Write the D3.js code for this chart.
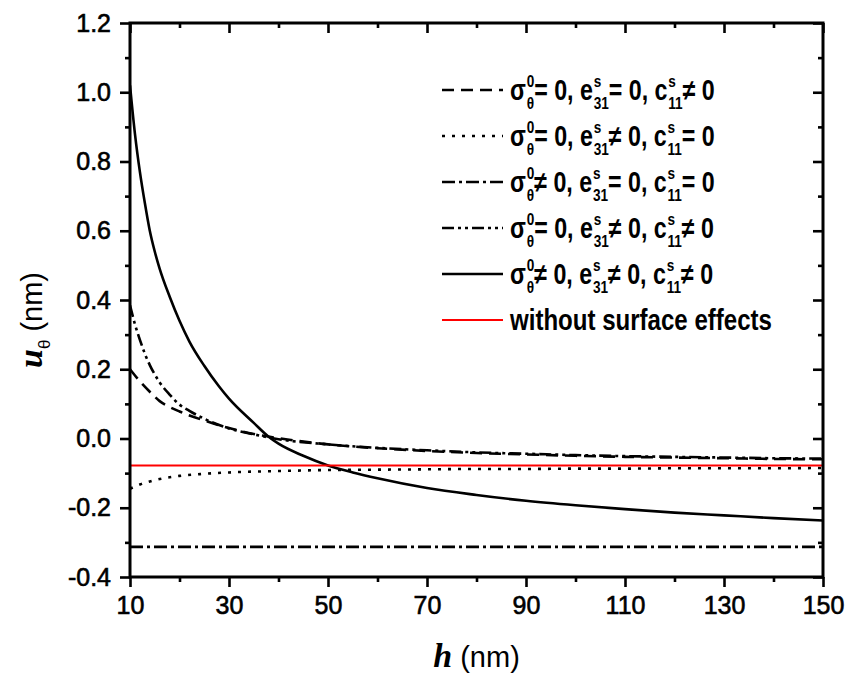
<!DOCTYPE html>
<html>
<head>
<meta charset="utf-8">
<script src="https://cdn.jsdelivr.net/npm/d3@7"></script>
<style>
  body { margin: 0; background: #fff; }
  svg { display: block; }
</style>
</head>
<body>
<svg id="chart" width="849" height="677"></svg>
<script>
// ---- data -----------------------------------------------------------
// h (nm) grid and u_theta (nm) for each combination of surface parameters
const hC11 = [10, 12, 14, 16, 18, 20, 25, 30, 35, 40, 50, 60, 70, 80, 90, 100, 110, 120, 130, 140, 150];
const uC11 = [0.200, 0.165, 0.135, 0.108, 0.091, 0.078, 0.052, 0.030, 0.013, 0.001, -0.017, -0.028, -0.036, -0.042, -0.046, -0.050, -0.053, -0.055, -0.057, -0.059, -0.060];

const hE31 = [10, 12, 14, 16, 18, 20, 25, 30, 40, 50, 60, 70, 80, 90, 100, 110, 120, 130, 140, 150];
const uE31 = [-0.145, -0.133, -0.124, -0.117, -0.112, -0.108, -0.102, -0.098, -0.094, -0.091, -0.090, -0.089, -0.088, -0.088, -0.087, -0.087, -0.086, -0.086, -0.086, -0.085];

const hSigma = [10, 150];
const uSigma = [-0.313, -0.313];

const hE31C11 = [10, 11, 12, 13, 14, 15, 16, 18, 20, 22, 25, 30, 35, 40, 50, 60, 70, 80, 90, 100, 110, 120, 130, 140, 150];
const uE31C11 = [0.385, 0.330, 0.285, 0.245, 0.212, 0.185, 0.162, 0.127, 0.098, 0.080, 0.057, 0.029, 0.012, -0.002, -0.017, -0.027, -0.034, -0.040, -0.044, -0.048, -0.051, -0.053, -0.055, -0.057, -0.058];

const hAll = [10, 11, 12, 13, 14, 15, 16, 18, 20, 22, 25, 28, 30, 35, 38, 40, 45, 50, 55, 60, 70, 80, 90, 100, 110, 120, 130, 140, 150];
const uAll = [1.020, 0.880, 0.770, 0.680, 0.600, 0.540, 0.490, 0.410, 0.340, 0.280, 0.210, 0.150, 0.115, 0.045, 0.005, -0.015, -0.050, -0.078, -0.098, -0.115, -0.143, -0.163, -0.180, -0.193, -0.204, -0.214, -0.222, -0.230, -0.237];

const hNone = [10, 150];
const uNone = [-0.078, -0.078];

// axis ticks
const hMajorTicks = [10, 30, 50, 70, 90, 110, 130, 150];
const hMinorTicks = [20, 40, 60, 80, 100, 120, 140];
const uMajorTicks = [-0.4, -0.2, 0.0, 0.2, 0.4, 0.6, 0.8, 1.0, 1.2];
const uMinorTicks = [-0.3, -0.1, 0.1, 0.3, 0.5, 0.7, 0.9, 1.1];
const uTickLabels = ["-0.4", "-0.2", "0.0", "0.2", "0.4", "0.6", "0.8", "1.0", "1.2"];

// legend: relation symbol for sigma, e31, c11 in each case
const caseSigma = ["=", "=", "\u2260", "=", "\u2260"];
const caseE31   = ["=", "\u2260", "=", "\u2260", "\u2260"];
const caseC11   = ["\u2260", "=", "=", "\u2260", "\u2260"];
const noSurfaceLabel = "without surface effects";

// ---- layout ---------------------------------------------------------
const svg = d3.select("#chart");
const X0 = 130, X1 = 823, Y0 = 23, Y1 = 577;
const x = d3.scaleLinear().domain([10, 150]).range([X0, X1]);
const y = d3.scaleLinear().domain([-0.4, 1.2]).range([Y1, Y0]);

svg.append("rect").attr("width", 849).attr("height", 677).attr("fill", "#fff");

const sans = "'Liberation Sans', Arial, sans-serif";
const serif = "'Liberation Serif', 'Times New Roman', serif";

// ---- axes -------------------------------------------------------------
function styleAxis(g) {
  g.select(".domain").remove();
  g.selectAll(".tick line").attr("stroke", "#000").attr("stroke-width", 2.6);
  g.selectAll(".tick text").attr("fill", "#000").attr("font-family", sans).attr("font-size", 25)
    .attr("stroke", "#000").attr("stroke-width", 0.6);
}

svg.append("g").attr("transform", `translate(0,${Y1})`)
  .call(d3.axisBottom(x).tickValues(hMajorTicks).tickSize(10).tickPadding(9).tickFormat(d3.format("d")))
  .call(styleAxis);
svg.append("g").attr("transform", `translate(0,${Y1})`)
  .call(d3.axisBottom(x).tickValues(hMinorTicks).tickSize(5).tickFormat(""))
  .call(styleAxis);
svg.append("g").attr("transform", `translate(0,${Y0})`)
  .call(d3.axisTop(x).tickValues(hMajorTicks).tickSize(-10).tickFormat(""))
  .call(styleAxis);
svg.append("g").attr("transform", `translate(0,${Y0})`)
  .call(d3.axisTop(x).tickValues(hMinorTicks).tickSize(-5).tickFormat(""))
  .call(styleAxis);

svg.append("g").attr("transform", `translate(${X0},0)`)
  .call(d3.axisLeft(y).tickValues(uMajorTicks).tickSize(10).tickPadding(9)
    .tickFormat((d, i) => uTickLabels[i]))
  .call(styleAxis);
svg.append("g").attr("transform", `translate(${X0},0)`)
  .call(d3.axisLeft(y).tickValues(uMinorTicks).tickSize(5).tickFormat(""))
  .call(styleAxis);
svg.append("g").attr("transform", `translate(${X1},0)`)
  .call(d3.axisRight(y).tickValues(uMajorTicks).tickSize(-10).tickFormat(""))
  .call(styleAxis);
svg.append("g").attr("transform", `translate(${X1},0)`)
  .call(d3.axisRight(y).tickValues(uMinorTicks).tickSize(-5).tickFormat(""))
  .call(styleAxis);

// ---- curves -----------------------------------------------------------
svg.append("clipPath").attr("id", "plot-clip")
  .append("rect").attr("x", X0).attr("y", Y0).attr("width", X1 - X0).attr("height", Y1 - Y0);

const series = [
  { h: hC11,    u: uC11,    color: "#000", width: 2.6, dash: "12,7" },
  { h: hE31,    u: uE31,    color: "#000", width: 2.6, dash: "3,7" },
  { h: hSigma,  u: uSigma,  color: "#000", width: 2.6, dash: "13,4,3,4" },
  { h: hE31C11, u: uE31C11, color: "#000", width: 2.6, dash: "12,4,3,4,3,4" },
  { h: hAll,    u: uAll,    color: "#000", width: 2.6, dash: null },
  { h: hNone,   u: uNone,   color: "#ff0000", width: 2.2, dash: null }
];

const line = d3.line().x(d => x(d[0])).y(d => y(d[1])).curve(d3.curveMonotoneX);
const plot = svg.append("g").attr("clip-path", "url(#plot-clip)");
series.forEach(s => {
  plot.append("path")
    .datum(s.h.map((h, i) => [h, s.u[i]]))
    .attr("d", line)
    .attr("fill", "none")
    .attr("stroke", s.color)
    .attr("stroke-width", s.width)
    .attr("stroke-dasharray", s.dash);
});

// frame
svg.append("rect").attr("x", X0).attr("y", Y0).attr("width", X1 - X0).attr("height", Y1 - Y0)
  .attr("fill", "none").attr("stroke", "#000").attr("stroke-width", 3);

// ---- axis titles --------------------------------------------------------
const xt = svg.append("text").attr("x", (X0 + X1) / 2).attr("y", 667)
  .attr("text-anchor", "middle").attr("font-family", sans).attr("font-size", 29).attr("fill", "#000");
xt.append("tspan").attr("font-family", serif).attr("font-style", "italic").attr("font-weight", "bold")
  .attr("font-size", 34).text("h");
xt.append("tspan").text(" (nm)");

const yt = svg.append("text").attr("transform", `translate(42,320) rotate(-90)`)
  .attr("text-anchor", "middle").attr("font-family", sans).attr("font-size", 29).attr("fill", "#000");
yt.append("tspan").attr("font-family", serif).attr("font-style", "italic").attr("font-weight", "bold")
  .attr("font-size", 34).text("u");
yt.append("tspan").attr("font-size", 17).attr("dy", 8).text("\u03b8");
yt.append("tspan").attr("dy", -8).text(" (nm)");

// ---- legend -------------------------------------------------------------
const legX0 = 442, legX1 = 503, legTextX = 510, legY0 = 90, legStep = 46;
const legendFont = 29, scriptFont = 17;

function drawLabel(g, parts) {
  let cx = 0;
  parts.forEach(p => {
    if (p.t !== undefined) {
      const t = g.append("text").attr("x", cx).attr("y", 0)
        .attr("font-family", sans).attr("font-weight", "bold").attr("font-size", legendFont)
        .attr("fill", "#000").text(p.t);
      cx += t.node().getComputedTextLength();
    } else {
      const sup = g.append("text").attr("x", cx + 1).attr("y", -13)
        .attr("font-family", sans).attr("font-weight", "bold").attr("font-size", scriptFont)
        .attr("fill", "#000").text(p.sup);
      const sub = g.append("text").attr("x", cx + 1).attr("y", 9)
        .attr("font-family", sans).attr("font-weight", "bold").attr("font-size", scriptFont)
        .attr("fill", "#000").text(p.sub);
      cx += 1 + Math.max(sup.node().getComputedTextLength(), sub.node().getComputedTextLength());
    }
  });
  return cx;
}

const legend = svg.append("g");
series.forEach((s, i) => {
  const ly = legY0 + i * legStep;
  legend.append("line").attr("x1", legX0).attr("x2", legX1).attr("y1", ly).attr("y2", ly)
    .attr("stroke", s.color).attr("stroke-width", s.width).attr("stroke-dasharray", s.dash);
  const squeeze = i < caseSigma.length ? 0.8 : 0.83;
  const g = legend.append("g")
    .attr("transform", `translate(${legTextX},${ly + 10}) scale(${squeeze},1)`);
  if (i < caseSigma.length) {
    drawLabel(g, [
      { t: "\u03c3" }, { sup: "0", sub: "\u03b8" },
      { t: caseSigma[i] + " 0, e" }, { sup: "s", sub: "31" },
      { t: caseE31[i] + " 0, c" }, { sup: "s", sub: "11" },
      { t: caseC11[i] + " 0" }
    ]);
  } else {
    drawLabel(g, [{ t: noSurfaceLabel }]);
  }
});
</script>
</body>
</html>
